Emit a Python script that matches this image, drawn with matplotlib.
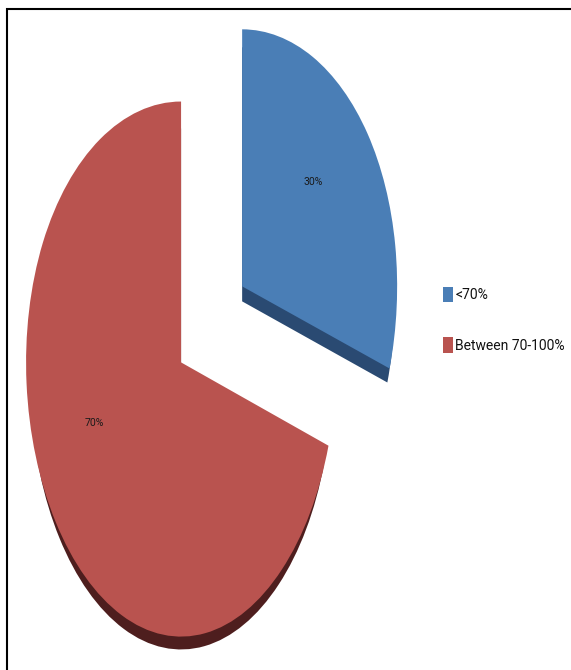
import numpy as np
import matplotlib
matplotlib.use("Agg")
import matplotlib.pyplot as plt
from matplotlib.patches import Rectangle

labels = ["<70%", "Between 70-100%"]
values = [30, 70]
colors = ["#4A7EB6", "#B9534F"]
side_colors = ["#2A4A72", "#4E1E1E"]

plt.rcParams["font.family"] = ["Roboto", "Liberation Sans", "DejaVu Sans"]

W, H = 571, 670
RX, RY = 155, 264       # pie radii in pixels, the picture is stretched
X0, Y0 = 237.5, 292.1   # pie centre before exploding
BEND = 6.67             # slight perspective, lower part of the pie is taller
EXPLODE = [0.037, 0.450]
SIDE = [15, 20]         # shift of the 3d edge in pixels
SIDE_R = [0.985, 0.97]  # edge sits a bit inside the top face


def forward(v):
    return RY * np.asarray(v) - BEND * np.asarray(v) ** 2


def inverse(f):
    return (RY - np.sqrt(RY ** 2 - 4 * BEND * np.asarray(f))) / (2 * BEND)


fig = plt.figure(figsize=(W / 100, H / 100), dpi=100)
ax = fig.add_axes([0, 0, 1, 1])

# side walls first, shifted down, then the top faces
for i in range(2):
    wedges, _ = ax.pie(values, explode=EXPLODE, startangle=90, counterclock=False,
                       colors=side_colors, radius=SIDE_R[i], center=(0, -SIDE[i] / RY))
    wedges[1 - i].set_visible(False)

wedges, _ = ax.pie(values, explode=EXPLODE, startangle=90, counterclock=False, colors=colors)

ax.set_aspect("auto")
ax.set_yscale("function", functions=(forward, inverse))
ax.set_xlim(-X0 / RX, (W - X0) / RX)
ax.set_ylim(inverse(Y0 - H), inverse(Y0))
ax.axis("off")

# percent labels
ax.text(313 / W, 1 - 182 / H, f"{values[0]}%", transform=ax.transAxes, fontsize=7.5,
        ha="center", va="center", color="#1A1A1A")
ax.text(94 / W, 1 - 423 / H, f"{values[1]}%", transform=ax.transAxes, fontsize=7.5,
        ha="center", va="center", color="#1A1A1A")

ax.legend(wedges, labels, loc="upper left", bbox_to_anchor=(441.6 / W, 1 - 285.6 / H),
          frameon=False, fontsize=10, labelcolor="#111111", handlelength=0.7,
          handleheight=1.34, handletextpad=0.2, labelspacing=2.5, borderpad=0.1,
          borderaxespad=0)

# black frame round the picture, right and bottom run off the edge
ax.add_patch(Rectangle((7 / W, -0.1), 1.1, 1.1 - 9 / H, transform=ax.transAxes,
                       fill=False, edgecolor="black", linewidth=1.5, zorder=5))

fig.savefig("out.png", dpi=100)
